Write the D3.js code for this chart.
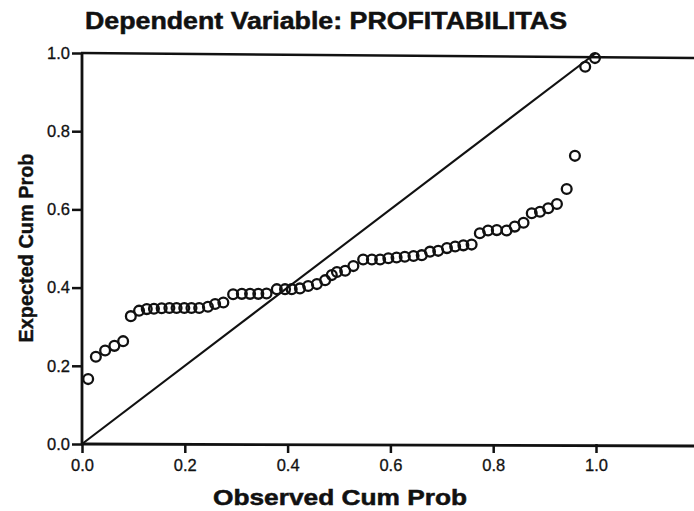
<!DOCTYPE html>
<html>
<head>
<meta charset="utf-8">
<script src="https://cdn.jsdelivr.net/npm/d3@7"></script>
<style>
  body { margin: 0; background: #fff; }
  svg text { font-family: "Liberation Sans", Arial, sans-serif; fill: #111; }
</style>
</head>
<body>
<div id="chart"></div>
<script>
// P-P plot values
var observed = [0.012, 0.027, 0.045, 0.063, 0.080, 0.095, 0.111, 0.126, 0.140, 0.155,
  0.170, 0.184, 0.199, 0.213, 0.228, 0.245, 0.259, 0.275, 0.294, 0.311,
  0.327, 0.343, 0.359, 0.379, 0.395, 0.408, 0.424, 0.440, 0.457, 0.473,
  0.486, 0.496, 0.512, 0.528, 0.547, 0.564, 0.580, 0.596, 0.612, 0.628,
  0.645, 0.661, 0.677, 0.693, 0.710, 0.726, 0.742, 0.758, 0.774, 0.790,
  0.807, 0.826, 0.842, 0.859, 0.875, 0.891, 0.907, 0.924, 0.943, 0.959,
  0.979, 0.998];
var expected = [0.166, 0.223, 0.239, 0.251, 0.263, 0.327, 0.341, 0.345, 0.346, 0.347,
  0.348, 0.348, 0.348, 0.348, 0.348, 0.351, 0.358, 0.362, 0.383, 0.384,
  0.384, 0.384, 0.385, 0.396, 0.396, 0.396, 0.398, 0.404, 0.409, 0.419,
  0.432, 0.440, 0.443, 0.455, 0.472, 0.472, 0.472, 0.475, 0.477, 0.479,
  0.481, 0.483, 0.492, 0.494, 0.501, 0.505, 0.508, 0.510, 0.539, 0.546,
  0.547, 0.546, 0.556, 0.566, 0.590, 0.594, 0.603, 0.614, 0.652, 0.737,
  0.965, 0.987];
var tickValues = [0, 0.2, 0.4, 0.6, 0.8, 1.0];
var titleText = "Dependent Variable: PROFITABILITAS";
var xLabel = "Observed Cum Prob";
var yLabel = "Expected Cum Prob";

var width = 694, height = 511;
var margin = { top: 53, left: 82, bottom: 67 };

var x = d3.scaleLinear().domain([0, 1]).range([margin.left, 596]);
var y = d3.scaleLinear().domain([0, 1]).range([height - margin.bottom, margin.top]);

var svg = d3.select("#chart").append("svg")
  .attr("width", width)
  .attr("height", height);

// title
svg.append("text")
  .attr("x", 326).attr("y", 29)
  .attr("text-anchor", "middle")
  .attr("font-size", 23).attr("font-weight", "bold")
  .attr("stroke", "#111").attr("stroke-width", 0.5)
  .attr("textLength", 482).attr("lengthAdjust", "spacingAndGlyphs")
  .text(titleText);

// frame: bottom and top lines run out to the page edge, left axis line
svg.append("line")
  .attr("x1", x(0) - 1).attr("x2", width)
  .attr("y1", y(0)).attr("y2", y(0) + 2)
  .attr("stroke", "#111").attr("stroke-width", 2.8);
svg.append("line")
  .attr("x1", x(0) - 1).attr("x2", width)
  .attr("y1", y(1)).attr("y2", y(1) + 5)
  .attr("stroke", "#111").attr("stroke-width", 2.5);
svg.append("line")
  .attr("x1", x(0)).attr("x2", x(0))
  .attr("y1", y(0)).attr("y2", y(1))
  .attr("stroke", "#111").attr("stroke-width", 2.8);

// axes
var fmt = d3.format(".1f");
var gx = svg.append("g")
  .attr("transform", "translate(0," + y(0) + ")")
  .call(d3.axisBottom(x).tickValues(tickValues).tickFormat(fmt).tickSize(9).tickPadding(6));
var gy = svg.append("g")
  .attr("transform", "translate(" + x(0) + ",0)")
  .call(d3.axisLeft(y).tickValues(tickValues).tickFormat(fmt).tickSize(10).tickPadding(2));
[gx, gy].forEach(function (g) {
  g.select(".domain").remove();
  g.selectAll(".tick line").attr("stroke", "#111").attr("stroke-width", 2.5);
  g.selectAll(".tick text")
    .attr("font-size", 16.5)
    .attr("font-family", "Liberation Sans, Arial, sans-serif")
    .attr("fill", "#111")
    .attr("stroke", "#111").attr("stroke-width", 0.3);
});

// reference diagonal
svg.append("line")
  .attr("x1", x(0)).attr("y1", y(0))
  .attr("x2", x(1)).attr("y2", y(1))
  .attr("stroke", "#111").attr("stroke-width", 2.1);

// points
var data = observed.map(function (d, i) { return { o: d, e: expected[i] }; });
svg.append("g").selectAll("circle")
  .data(data)
  .enter().append("circle")
  .attr("cx", function (d) { return x(d.o); })
  .attr("cy", function (d) { return y(d.e); })
  .attr("r", 4.9)
  .attr("fill", "none")
  .attr("stroke", "#111")
  .attr("stroke-width", 2.3);

// axis titles
svg.append("text")
  .attr("x", 340).attr("y", 505)
  .attr("text-anchor", "middle")
  .attr("font-size", 22).attr("font-weight", "bold")
  .attr("stroke", "#111").attr("stroke-width", 0.5)
  .attr("textLength", 254).attr("lengthAdjust", "spacingAndGlyphs")
  .text(xLabel);
svg.append("text")
  .attr("transform", "translate(33,248) rotate(-90)")
  .attr("text-anchor", "middle")
  .attr("font-size", 21).attr("font-weight", "bold")
  .attr("stroke", "#111").attr("stroke-width", 0.4)
  .attr("textLength", 189).attr("lengthAdjust", "spacingAndGlyphs")
  .text(yLabel);
</script>
</body>
</html>
